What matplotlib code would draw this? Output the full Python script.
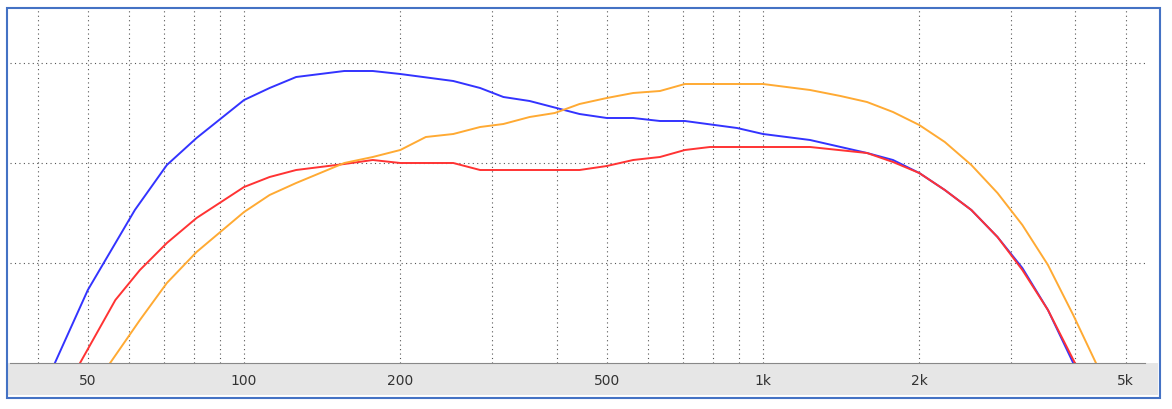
import matplotlib
matplotlib.use("Agg")
import matplotlib.pyplot as plt
from matplotlib.patches import Rectangle
from matplotlib.ticker import FixedLocator, NullFormatter

blue_f = [43.2,50,61.6,71,81,100,112,126,156,177,200,253,285,316,355,443,500,562,633,707,891,1000,1232,1586,1780,2000,2240,2520,2830,3160,3540,3960]
blue_y = [0,7.3,15.3,19.8,22.5,26.3,27.5,28.6,29.2,29.2,28.9,28.2,27.5,26.6,26.2,24.9,24.5,24.5,24.2,24.2,23.5,22.9,22.3,21,20.3,19,17.3,15.3,12.6,9.5,5.3,0]
red_f = [48.3,56.5,63,71,81,100,112,126,156,177,200,253,285,443,500,562,633,707,790,1000,1232,1586,1780,2000,2240,2520,2830,3160,3540,3990]
red_y = [0,6.3,9.3,12,14.5,17.6,18.6,19.3,19.9,20.3,20,20,19.3,19.3,19.7,20.3,20.6,21.3,21.6,21.6,21.6,21,20.1,19,17.3,15.3,12.6,9.3,5.3,0]
orange_f = [55.2,63,71,81,100,112,126,156,177,200,224,253,285,316,355,397,443,500,562,633,707,891,1000,1232,1410,1586,1780,2000,2240,2520,2830,3160,3540,3960,4380]
orange_y = [0,4.3,8,11.1,15.1,16.8,18,20,20.6,21.3,22.6,22.9,23.6,23.9,24.6,25,25.9,26.5,27,27.2,27.9,27.9,27.9,27.3,26.7,26.1,25.1,23.8,22.1,19.8,17,13.8,9.8,4.8,0]
tick_vals = [50,100,200,500,1000,2000,5000]
tick_labels = ["50","100","200","500","1k","2k","5k"]

W, H = 1172, 409
fig = plt.figure(figsize=(W/100, H/100), dpi=100)
bg = fig.add_axes([8/W, (H-395)/H, 1150/W, 32/H], zorder=0)
bg.set_facecolor("#e6e6e6")
bg.set_xticks([]); bg.set_yticks([])
for s in bg.spines.values():
    s.set_visible(False)
fig.patches.append(Rectangle((7/W, (H-398)/H), 1153/W, 390/H, transform=fig.transFigure,
                             facecolor="none", edgecolor="#4472c4", lw=1.5, zorder=5))
ax = fig.add_axes([10/W, (H-363)/H, 1135/W, 353/H], zorder=2)
ax.set_xscale("log")
ax.set_xlim(35.4, 5445)
ax.set_ylim(0, 35.3)
ax.plot(blue_f, blue_y, color="#3333ff", lw=1.4)
ax.plot(red_f, red_y, color="#ff3333", lw=1.4)
ax.plot(orange_f, orange_y, color="#ffaa33", lw=1.4)
minor = [m*d for d in (10,100,1000) for m in range(1,10) if 35 < m*d < 5445]
ax.xaxis.set_major_locator(FixedLocator(tick_vals))
ax.xaxis.set_minor_locator(FixedLocator(minor))
ax.xaxis.set_minor_formatter(NullFormatter())
ax.set_xticklabels(tick_labels)
ax.set_yticks([10,20,30])
ax.set_yticklabels([])
ax.grid(True, which="both", axis="x", color="#555555", ls=(0,(1,3)), lw=0.8)
ax.grid(True, axis="y", color="#555555", ls=(0,(1,3)), lw=0.8)
ax.tick_params(which="both", length=0, labelsize=10, colors="#333333", pad=8)
for s in ("top","right","left"):
    ax.spines[s].set_visible(False)
ax.spines["bottom"].set_color("#888888")
fig.savefig("out.png", dpi=100)
